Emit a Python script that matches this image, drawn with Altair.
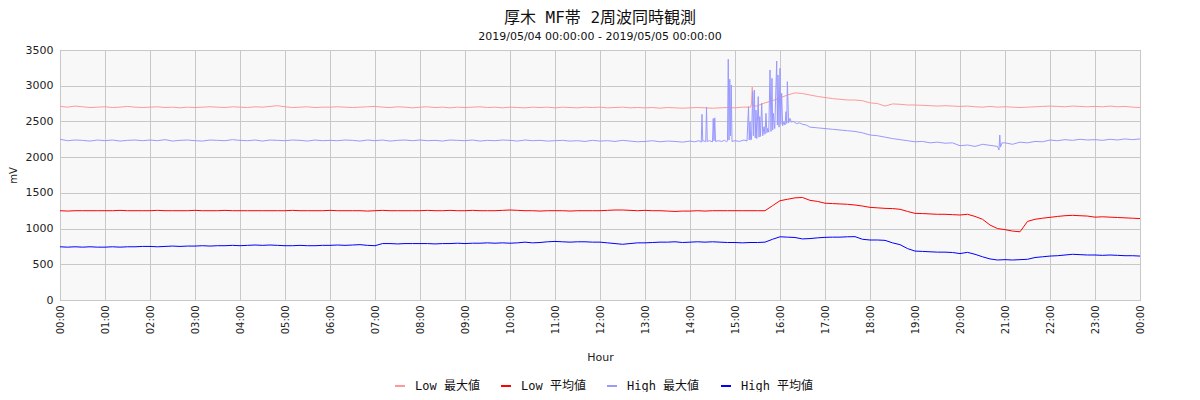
import altair as alt
import pandas as pd

# ---------------- data ----------------
series_names = ["Low 最大値", "Low 平均値", "High 最大値", "High 平均値"]
series_colors = ["#ff9999", "#ff0000", "#9999ff", "#0000ff"]

step_minutes = 10  # base sampling of the arrays below (00:00 .. 24:00)

low_max = [
    2710, 2700, 2715, 2705, 2695, 2700,
    2705, 2695, 2700, 2710, 2700, 2695,
    2700, 2705, 2695, 2700, 2690, 2700,
    2695, 2700, 2705, 2700, 2695, 2705,
    2700, 2695, 2705, 2700, 2710, 2720,
    2705, 2695, 2700, 2705, 2695, 2700,
    2700, 2705, 2700, 2695, 2700, 2705,
    2710, 2700, 2695, 2705, 2700, 2690,
    2700, 2705, 2695, 2700, 2690, 2700,
    2695, 2700, 2705, 2695, 2700, 2690,
    2700, 2695, 2690, 2700, 2695, 2700,
    2690, 2700, 2695, 2690, 2700, 2695,
    2700, 2690, 2695, 2700, 2690, 2695,
    2690, 2695, 2685, 2695, 2690, 2685,
    2690, 2695, 2690, 2685, 2690, 2695,
    2690, 2700, 2700, 2720, 2760, 2790,
    2830, 2870, 2900, 2890, 2870, 2850,
    2835, 2820, 2810, 2800, 2800, 2790,
    2760, 2750, 2715, 2745, 2740, 2730,
    2730, 2725, 2720, 2715, 2720, 2715,
    2710, 2715, 2705, 2700, 2710, 2700,
    2705, 2700, 2695, 2700, 2705, 2710,
    2715, 2710, 2705, 2715, 2710, 2705,
    2710, 2705, 2715, 2705, 2710, 2700,
    2695,
]
low_max_detail_min = [921, 922, 923, 924, 925]
low_max_detail_val = [2700, 2760, 2980, 2750, 2710]

low_avg = [
    1250, 1245, 1250, 1250, 1250, 1250,
    1250, 1250, 1255, 1250, 1250, 1250,
    1250, 1255, 1250, 1250, 1250, 1250,
    1255, 1250, 1250, 1250, 1255, 1250,
    1250, 1250, 1250, 1250, 1250, 1250,
    1250, 1255, 1250, 1250, 1250, 1250,
    1255, 1250, 1250, 1250, 1250, 1245,
    1250, 1255, 1250, 1250, 1250, 1250,
    1250, 1255, 1250, 1250, 1255, 1250,
    1250, 1255, 1250, 1250, 1250, 1255,
    1260, 1255, 1250, 1250, 1245, 1250,
    1250, 1250, 1245, 1250, 1250, 1250,
    1250, 1255, 1260, 1260, 1255, 1250,
    1255, 1250, 1250, 1245, 1240, 1245,
    1245, 1250, 1245, 1250, 1250, 1250,
    1250, 1250, 1250, 1250, 1250, 1320,
    1390, 1410, 1430, 1435, 1395, 1380,
    1355, 1350, 1345, 1340, 1330, 1315,
    1297, 1290, 1283, 1280, 1270, 1240,
    1213, 1210, 1205, 1200, 1200, 1195,
    1190, 1200, 1170, 1130, 1050, 1000,
    985, 965, 955, 1100, 1130, 1145,
    1157, 1170, 1180, 1185, 1180, 1175,
    1160, 1165, 1160, 1155, 1150, 1145,
    1140,
]

high_max = [
    2250, 2230, 2240, 2235, 2225, 2240,
    2230, 2240, 2225, 2235, 2240, 2230,
    2240, 2230, 2245, 2225, 2235, 2240,
    2230, 2225, 2240, 2235, 2230, 2245,
    2235, 2230, 2240, 2225, 2240, 2235,
    2230, 2240, 2235, 2225, 2240, 2230,
    2235, 2230, 2240, 2235, 2225, 2240,
    2230, 2240, 2225, 2235, 2240, 2230,
    2240, 2230, 2235, 2225, 2240, 2235,
    2230, 2240, 2225, 2235, 2230, 2240,
    2235, 2225, 2240, 2230, 2235, 2225,
    2230, 2235, 2225, 2230, 2220, 2235,
    2225, 2230, 2220, 2235, 2225, 2215,
    2220, 2230, 2215, 2225, 2220, 2210,
    2225, 2230, 2220, 2230, 2225, 2230,
    2230, 2240, 2250, 2300, 2380, 2450,
    2480, 2500, 2490, 2480, 2420, 2410,
    2400, 2390, 2380, 2370, 2360, 2340,
    2310, 2300, 2280, 2260, 2245, 2230,
    2215, 2220, 2200, 2210, 2195, 2200,
    2160, 2170, 2150, 2180, 2165, 2140,
    2200, 2180, 2210, 2200, 2220, 2215,
    2240, 2230, 2245, 2235, 2250, 2240,
    2245, 2235, 2250, 2240, 2255, 2245,
    2255,
]
# spiky stretch 14:00 - 16:40 read at finer time steps (minutes)
high_max_detail_min = [
    840, 846, 852, 855, 856, 857, 858, 861, 862, 863, 866, 870, 871, 872, 873,
    874, 878, 882, 886, 889, 890, 891, 892, 893, 894, 895, 896, 900, 906, 912,
    916, 918, 919, 920, 921, 922, 923.6, 924.5, 925.8, 927, 928, 929, 931, 932,
    933, 934, 935.6, 937, 938.7, 940, 941.3, 942.5, 943.6, 945, 946.7, 948,
    949.3, 950.3, 951.1, 953, 955.6, 956.5, 957.3, 958.7, 960, 961, 962.2,
    963.5, 965.3, 966.7, 968, 969, 969.8, 971.5, 973.3, 975, 977.8, 982, 986,
    990, 995, 1000,
]
high_max_detail_val = [
    2225, 2215, 2230, 2210, 2600, 2220, 2230, 2215, 2700, 2220, 2230, 2215, 2540, 2230, 2550,
    2220, 2230, 2220, 2235, 2215, 2230, 3370, 2240, 3090, 2300, 3010, 2220, 2230, 2220, 2240,
    2225, 2707, 2240, 2497, 2240, 2250, 2917, 2300, 2940, 2270, 2660, 2260, 2847, 2280,
    2567, 2290, 2753, 2300, 2427, 2320, 2613, 2340, 2403, 2350, 3220, 2360,
    3103, 2380, 2613, 2400, 3346, 2450, 3150, 2420, 3243, 2460, 2893,
    2440, 2497, 2450, 2637, 2470, 3057, 2480, 2543, 2490, 2500, 2470, 2480,
    2460, 2450, 2420,
]
high_max_detail2_min = [1250, 1252, 1253, 1254, 1256]
high_max_detail2_val = [2150, 2100, 2310, 2140, 2200]

high_avg = [
    745, 740, 745, 740, 745, 740,
    740, 745, 740, 745, 745, 750,
    750, 745, 750, 755, 750, 755,
    755, 760, 755, 760, 760, 765,
    760, 765, 770, 765, 770, 765,
    760, 760, 765, 760, 760, 765,
    765, 770, 765, 770, 775, 765,
    760, 790, 790, 785, 790, 790,
    790, 790, 785, 790, 790, 795,
    790, 795, 795, 800, 795, 800,
    795, 800, 810, 800, 805, 815,
    820, 815, 810, 815, 815, 810,
    810, 800, 790, 780, 790, 800,
    800, 805, 810, 810, 815, 805,
    810, 815, 810, 815, 810, 805,
    805, 800, 805, 805, 810, 850,
    885, 880, 875, 855, 860, 870,
    877, 880, 880, 885, 887, 850,
    840, 840, 835, 800, 775, 720,
    685, 680, 675, 670, 670, 665,
    650, 667, 640, 605, 575, 560,
    565, 560, 565, 570, 595, 605,
    615, 620, 630, 640, 635, 630,
    630, 625, 630, 625, 620, 620,
    615,
]

hour_ticks = list(range(0, 25))
mv_ticks = list(range(0, 3501, 500))


# ---------------- build the long table ----------------
def build(name, base, blocks=()):
    pts = [(i * step_minutes, v) for i, v in enumerate(base)]
    for mins, vals in blocks:
        lo, hi = min(mins), max(mins)
        pts = [p for p in pts if not (lo <= p[0] <= hi)]
        pts += list(zip(mins, vals))
    pts.sort(key=lambda p: p[0])
    return pd.DataFrame({"hour": [p[0] / 60 for p in pts],
                         "value": [p[1] for p in pts],
                         "series": name})


df = pd.concat([
    build(series_names[0], low_max, [(low_max_detail_min, low_max_detail_val)]),
    build(series_names[1], low_avg),
    build(series_names[2], high_max, [(high_max_detail_min, high_max_detail_val),
                                      (high_max_detail2_min, high_max_detail2_val)]),
    build(series_names[3], high_avg),
], ignore_index=True)

SANS = "DejaVu Sans"
CJK = "DejaVu Sans Mono, Noto Sans CJK JP"

chart = alt.Chart(df).mark_line(strokeWidth=1, clip=True).encode(
    x=alt.X("hour:Q",
            scale=alt.Scale(domain=[0, 24], nice=False, zero=False),
            axis=alt.Axis(values=hour_ticks,
                          labelExpr="(datum.value % 24 < 10 ? '0' : '') + (datum.value % 24) + ':00'",
                          labelAngle=270, labelFont=SANS, labelFontSize=10,
                          labelColor="#222222", labelPadding=5, labelOverlap=False,
                          labelFlush=False, ticks=False, domain=False,
                          title="Hour", titleFont=SANS, titleFontSize=11,
                          titleFontWeight="normal", titleColor="#222222",
                          titlePadding=18)),
    y=alt.Y("value:Q",
            scale=alt.Scale(domain=[0, 3500], nice=False),
            axis=alt.Axis(values=mv_ticks, format="d", labelFont=SANS, labelFontSize=11,
                          labelColor="#222222", labelPadding=7, ticks=False,
                          domain=False, title="mV", titleFont=SANS, titleFontSize=10,
                          titleFontWeight="normal", titleColor="#222222",
                          titlePadding=7)),
    color=alt.Color("series:N",
                    scale=alt.Scale(domain=series_names, range=series_colors),
                    legend=alt.Legend(title=None, orient="none", legendX=334, legendY=330,
                                      direction="horizontal", columns=4,
                                      symbolType="stroke", symbolStrokeWidth=2,
                                      symbolSize=100, labelFont=CJK, labelFontSize=12,
                                      labelColor="#111111", labelOffset=9,
                                      columnPadding=17)),
).properties(
    width=1080,
    height=250,
    autosize=alt.AutoSizeParams(type="none"),
    padding={"left": 52, "top": 42, "right": 52, "bottom": 92},
    title=alt.TitleParams(
        text="厚木 MF帯 2周波同時観測",
        subtitle="2019/05/04 00:00:00 - 2019/05/05 00:00:00",
        font=CJK, fontSize=16, fontWeight="normal", color="#111111",
        subtitleFont=SANS, subtitleFontSize=11, subtitleColor="#111111",
        subtitlePadding=5, anchor="middle", offset=2,
    ),
).configure_view(
    fill="#f8f8f8", stroke="#a0a0a0", strokeWidth=1,
).configure_axis(
    gridColor="#c8c8c8", gridOpacity=1, gridWidth=1,
)

chart.save("out.html", embed_options={"renderer": "svg", "actions": False})
